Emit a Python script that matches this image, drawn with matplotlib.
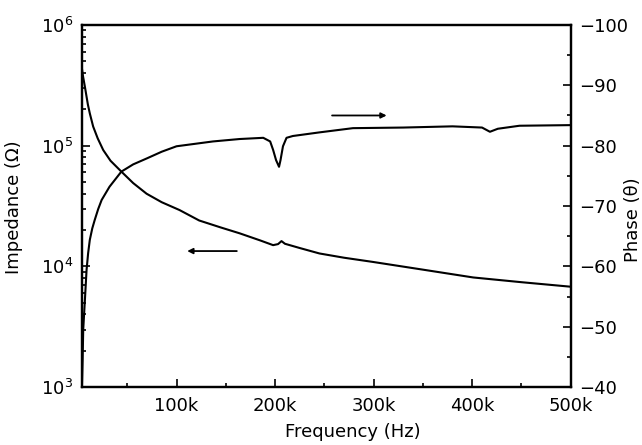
import matplotlib.pyplot as plt
from matplotlib.ticker import FixedLocator, MultipleLocator, FuncFormatter

plt.rcParams['font.family'] = ['DejaVu Sans']

# 阻抗曲线 (Hz, Ω)
freq_z = [3600, 5000, 7000, 10000, 12000, 15400, 20000, 25600, 33000, 44000, 56000,
          69600, 85000, 103000, 123000, 145000, 164000, 185000, 198000, 203000,
          206500, 210000, 225000, 245000, 270000, 299000, 350000, 401000, 450000, 499000]
imped = [4.6e5, 3.8e5, 3.08e5, 2.2e5, 1.85e5, 1.44e5, 1.15e5, 9.2e4, 7.5e4, 6.1e4, 4.9e4,
         4.0e4, 3.4e4, 2.93e4, 2.4e4, 2.1e4, 1.88e4, 1.64e4, 1.5e4, 1.53e4,
         1.62e4, 1.54e4, 1.42e4, 1.28e4, 1.18e4, 1.09e4, 9.4e3, 8.1e3, 7.4e3, 6.8e3]

# 相位曲线 (Hz, θ)
freq_p = [4000, 4700, 5300, 7000, 8700, 10300, 12000, 14500, 17000, 20500, 24000, 32000,
          44000, 56000, 70000, 85000, 100000, 137000, 164000, 188000, 195000, 198000,
          201000, 204000, 205500, 208000, 211600, 218000, 245000, 279000, 330000,
          380000, 410000, 418000, 426000, 448000, 499000]
phase = [-40.0, -44.5, -49.5, -54.4, -59.4, -62.2, -64.4, -66.3, -67.7, -69.5, -71.0, -73.2,
         -75.7, -76.9, -77.9, -79.0, -79.9, -80.7, -81.1, -81.3, -80.7, -79.3,
         -77.6, -76.5, -77.6, -79.9, -81.3, -81.6, -82.2, -82.9, -83.0,
         -83.2, -83.0, -82.3, -82.8, -83.3, -83.4]

fig = plt.figure(figsize=(6.42, 4.45), dpi=100)
ax = fig.add_axes([0.127, 0.130, 0.762, 0.814])
ax2 = ax.twinx()

ax.plot(freq_z, imped, color='black', linewidth=1.5)
ax2.plot(freq_p, phase, color='black', linewidth=1.5)

ax.set_yscale('log')
ax.set_xlim(3600, 500000)
ax.set_ylim(1e3, 1e6)
ax2.set_ylim(-40, -100)

ax.xaxis.set_major_locator(FixedLocator([100000, 200000, 300000, 400000, 500000]))
ax.xaxis.set_minor_locator(FixedLocator([50000, 150000, 250000, 350000, 450000]))
ax.xaxis.set_major_formatter(FuncFormatter(lambda v, p: f'{int(v / 1000)}k'))
ax2.yaxis.set_major_locator(MultipleLocator(10))
ax2.yaxis.set_minor_locator(MultipleLocator(5))

for a in (ax, ax2):
    a.tick_params(which='both', direction='in', labelsize=13, width=1.2)
    a.tick_params(which='major', length=6)
    a.tick_params(which='minor', length=3)
    for s in a.spines.values():
        s.set_linewidth(1.6)
ax.tick_params(axis='x', pad=7)
ax.tick_params(axis='y', pad=6)
ax2.tick_params(axis='y', pad=6)

ax.set_xlabel('Frequency (Hz)', fontsize=13)
ax.set_ylabel('Impedance (Ω)', fontsize=13)
ax2.set_ylabel('Phase (θ)', fontsize=13, rotation=90)
ax.xaxis.set_label_coords(0.554, -0.10)
ax.yaxis.set_label_coords(-0.12, 0.496)
ax2.yaxis.set_label_coords(1.108, 0.461)

# 指示箭头
ax.annotate('', xy=(108000, 1.34e4), xytext=(164000, 1.34e4),
            arrowprops=dict(arrowstyle='-|>', color='black', lw=1.3, mutation_scale=8))
ax2.annotate('', xy=(316000, -85.0), xytext=(255000, -85.0),
             arrowprops=dict(arrowstyle='-|>', color='black', lw=1.3, mutation_scale=8))

fig.savefig('out.png', dpi=100)
